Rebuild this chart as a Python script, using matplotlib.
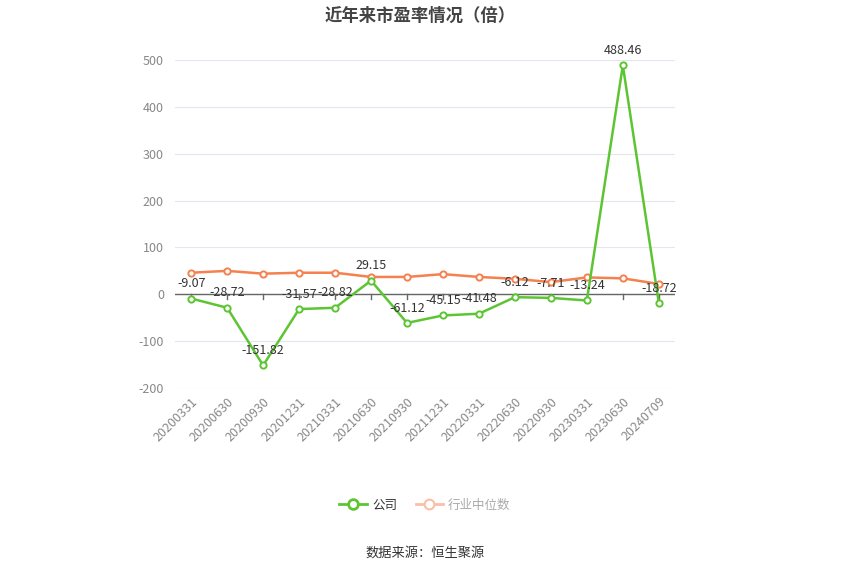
import matplotlib
matplotlib.use('Agg')
import matplotlib.pyplot as plt
from matplotlib.lines import Line2D

plt.rcParams['font.family'] = ['Noto Sans CJK SC', 'DejaVu Sans']
plt.rcParams['axes.unicode_minus'] = False

# data
dates = ['20200331', '20200630', '20200930', '20201231', '20210331', '20210630', '20210930',
         '20211231', '20220331', '20220630', '20220930', '20230331', '20230630', '20240709']
company_pe = [-9.07, -28.72, -151.82, -31.57, -28.82, 29.15, -61.12,
              -45.15, -41.48, -6.12, -7.71, -13.24, 488.46, -18.72]
industry_pe = [46, 50, 44, 46, 46, 37, 37, 43, 37, 33, 26, 36, 34, 22]

green = '#5dc534'
orange = '#f5814f'

fig = plt.figure(figsize=(8.5, 5.75), dpi=100)
ax = fig.add_axes([175 / 850, 1 - 388 / 575, 500 / 850, 328 / 575])

x = list(range(len(dates)))
ax.plot(x, industry_pe, color=orange, lw=1.8, marker='o', ms=4.5, mfc='white',
        mec=orange, mew=1.4, zorder=3)
ax.plot(x, company_pe, color=green, lw=1.8, marker='o', ms=4.5, mfc='white',
        mec=green, mew=1.4, zorder=4)

for xi, v in zip(x, company_pe):
    ax.annotate(f'{v:.2f}', (xi, v), xytext=(0, 6), textcoords='offset points',
                ha='center', va='bottom', fontsize=9, color='#333333', zorder=5)

ax.set_ylim(-200, 500)
ax.set_xlim(-0.45, len(dates) - 0.55)
ax.set_yticks(range(-200, 501, 100))
ax.grid(axis='y', color='#e3e6ee', lw=0.8)
ax.set_axisbelow(True)
ax.axhline(0, color='#666666', lw=1, zorder=2)
for s in ax.spines.values():
    s.set_visible(False)
ax.tick_params(axis='y', length=0, labelsize=9, labelcolor='#888888', pad=8)
ax.set_xticks(x)
ax.set_xticklabels(dates, rotation=45, ha='right', rotation_mode='anchor',
                   fontsize=9, color='#888888')
ax.tick_params(axis='x', length=0, pad=5)
# small tick marks hanging down from the zero line
for xi in x:
    ax.plot([xi, xi], [0, -10], color='#666666', lw=1, zorder=1)

fig.text(0.494, 0.988, '近年来市盈率情况（倍）', ha='center', va='top',
         fontsize=12.5, fontweight='bold', color='#444444')

handles = [
    Line2D([0], [0], color=green, lw=2, marker='o', ms=7, mfc='white', mec=green, mew=2),
    Line2D([0], [0], color='#fbbfa8', lw=2, marker='o', ms=7, mfc='white', mec='#fbbfa8', mew=1.5),
]
leg = fig.legend(handles, ['公司', '行业中位数'], loc='center', bbox_to_anchor=(0.5, 1 - 505 / 575),
                 ncol=2, frameon=False, fontsize=9, handlelength=2.2, columnspacing=1.5,
                 handletextpad=0.4)
leg.get_texts()[0].set_color('#333333')
leg.get_texts()[1].set_color('#aaaaaa')

fig.text(0.5, 1 - 553 / 575, '数据来源：恒生聚源', ha='center', va='center',
         fontsize=9.5, color='#333333')

fig.savefig('out.png', dpi=100)
